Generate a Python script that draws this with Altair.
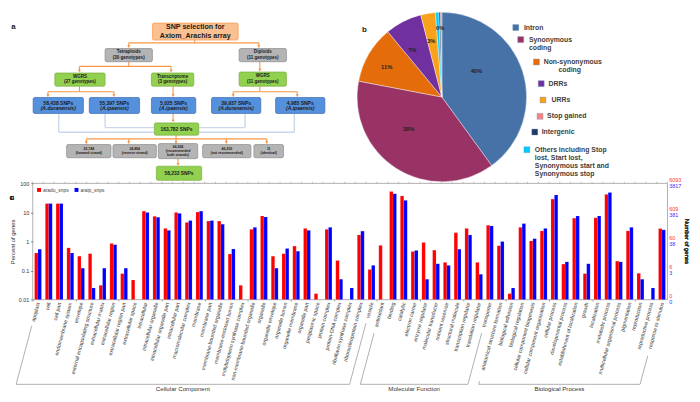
import math
import altair as alt
import pandas as pd

# ------------------------------------------------------------------ panel c data
go_terms = [
    "apoplast", "cell", "cell part", "endomembrane system", "envelope",
    "external encapsulating structure", "extracellular matrix", "extracellular region",
    "extracellular region part", "extracellular space", "intracellular", "intracellular organelle",
    "intracellular organelle part", "intracellular part", "macromolecular complex", "membrane",
    "membrane part", "membrane-bounded organelle", "membrane-enclosed lumen",
    "molybdopterin synthase complex", "non-membrane-bounded organelle", "organelle",
    "organelle envelope", "organelle lumen", "organelle membrane", "organelle part",
    "periplasmic space", "protein complex", "protein-DNA complex", "riboflavin synthase complex",
    "ribonucleoprotein complex", "vesicle",
    "antioxidant", "binding", "catalytic", "electron carrier", "enzyme regulator",
    "molecular transducer", "nutrient reservoir", "structural molecule",
    "transcription regulator", "translation regulator", "transporter",
    "anatomical structure formation", "biological adhesion", "biological regulation",
    "cellular component biogenesis", "cellular component organization", "cellular process",
    "developmental process", "establishment of localization", "growth", "localization",
    "metabolic process", "multicellular organismal process", "pigmentation", "reproduction",
    "reproductive process", "response to stimulus",
]
go_groups = ["Cellular Component", "Molecular Function", "Biological Process"]
go_group_sizes = [32, 11, 16]

aradu_pct = [0.40, 20, 20, 0.60, 0.31, 0.38, 0.031, 0.85, 0.078, 0.047,
             11, 7.3, 2.8, 9.9, 4.5, 10.2, 5.0, 5.0, 0.37, 0.031,
             2.6, 7.5, 0.31, 0.38, 0.69, 2.8, 0.016, 2.6, 0.22, None,
             1.67, 0.108,
             0.73, 52, 36.6, 0.45, 0.92, 0.50, 0.19, 2.0, 2.8, 0.19, 3.6,
             0.71, 0.016, 3.05, 1.04, 2.3, 28.5, 0.166, 6.3, 0.078, 6.5,
             41.5, 0.21, 2.3, 0.08, None, 2.76]
araip_pct = [0.54, 20, 20, 0.40, 0.12, 0.025, 0.12, 0.77, 0.12, None,
             9.9, 6.8, 2.4, 9.2, 5.2, 11, 5.2, 3.9, 0.55, None,
             3.05, 6.9, 0.12, 0.57, 0.46, 2.4, None, 3.05, 0.05, 0.025,
             2.26, 0.15,
             None, 43.6, 25.8, 0.49, 0.05, 0.17, 0.15, 0.54, 1.67, 0.074, 3.4,
             0.99, 0.025, 4.1, 1.24, 2.8, 39.5, 0.198, 7.5, 0.17, 7.5,
             48, 0.198, 3.05, 0.05, 0.025, 2.5]
series_names = ["aradu_snps", "araip_snps"]
pct_ticks = [100, 10, 1, 0.1, 0.01]
aradu_counts = ["6093", "609", "60", "6", "0"]
araip_counts = ["3817", "381", "38", "3", "0"]

# ------------------------------------------------------------------ panel b data
pie_cats = ["Intron", "Synonymous coding", "Non-synonymous coding", "DRRs", "URRs",
            "Stop gained", "Intergenic",
            "Others including Stop lost, Start lost, Synonymous start and Synonymous stop"]
pie_vals = [40, 38, 11, 7, 2.8, 0.3, 0.3, 0.6]
pie_stack_order = [0, 1, 2, 3, 4, 7, 6, 5]
pie_colors = ["#4672A8", "#993366", "#E46C0A", "#7030A0", "#F9A11B",
              "#FF8080", "#1F3864", "#00CCFF"]
pie_legend_lines = [["Intron"], ["Synonymous", "coding"], ["Non-synonymous", "coding"],
                    ["DRRs"], ["URRs"], ["Stop gained"], ["Intergenic"],
                    ["Others including Stop", "lost, Start lost,", "Synonymous start and",
                     "Synonymous stop"]]
pie_labelled = ["Intron", "Synonymous coding", "Non-synonymous coding", "DRRs", "URRs", "Intergenic"]

# ------------------------------------------------------------------ panel a data
flow_texts = [
    ["SNP selection for", "Axiom_Arachis array"],
    ["Tetraploids", "(30 genotypes)"],
    ["Diploids", "(11 genotypes)"],
    ["WGRS", "(27 genotypes)"],
    ["Transcriptome", "(3 genotypes)"],
    ["WGRS", "(11 genotypes)"],
    ["58,438 SNPs", "(A.duranensis)"],
    ["55,397 SNPs", "(A.ipaensis)"],
    ["5,025 SNPs", "(A.ipaensis)"],
    ["39,937 SNPs", "(A.duranensis)"],
    ["4,985 SNPs", "(A.ipaensis)"],
    ["163,782 SNPs"],
    ["25,748", "(forward strand)"],
    ["24,894", "(reverse strand)"],
    ["66,924", "(recommended", "both strands)"],
    ["46,205", "(not recommended)"],
    ["11", "(identical)"],
    ["58,233 SNPs"],
]

# ------------------------------------------------------------------ layout (reference pixel frame)
flow_layout = [  # x0, x1, y0, y1, kind, font size
    (153, 240, 11, 29, "peach", 7.2),
    (105, 153, 38, 52, "gray", 4.6), (241, 289, 38, 52, "gray", 4.6),
    (54, 105, 64, 78, "green", 4.6), (152, 195, 64, 78, "green", 4.6), (241, 289, 63, 78, "green", 4.6),
    (32, 83, 90, 107, "blue", 5.1), (89, 140, 90, 107, "blue", 5.1), (152, 197, 90, 107, "blue", 5.1),
    (213, 263, 90, 107, "blue", 5.1), (278, 328, 90, 107, "blue", 5.1),
    (155, 200, 117, 130, "green", 5.0),
    (66, 111, 140, 154, "gray", 3.5), (113, 157, 140, 154, "gray", 3.5), (159, 199, 139, 155, "gray", 3.5),
    (204, 253, 140, 154, "gray", 3.5), (256, 286, 140, 154, "gray", 3.5),
    (157, 203, 163, 178, "green", 5.0),
]
box_fill = {"peach": "#FAC090", "gray": "#B4B4B4", "green": "#92D050", "blue": "#5590DC"}
box_edge = {"peach": "#F79646", "gray": "#8A8A8A", "green": "#76AE3E", "blue": "#3C6CB4"}
orange_segs = [
    (196, 29, 196, 32), (129, 32, 261, 32), (129, 32, 129, 36), (261, 32, 261, 36),
    (129, 52, 129, 57), (79, 57, 172, 57), (79, 57, 79, 62), (172, 57, 172, 62),
    (262, 52, 262, 61),
    (79, 78, 79, 84), (47, 84, 114, 84), (47, 84, 47, 88), (114, 84, 114, 88),
    (174, 78, 174, 88),
    (262, 78, 262, 84), (235, 84, 300, 84), (235, 84, 235, 88), (300, 84, 300, 88),
    (174, 107, 174, 115),
    (177, 130, 177, 134), (86, 134, 269, 134), (86, 134, 86, 138), (129, 134, 129, 138),
    (177, 134, 177, 138), (228, 134, 228, 138), (269, 134, 269, 138),
    (179, 155, 179, 161),
]
arrow_tips = [(129, 36), (261, 36), (79, 62), (172, 62), (262, 61), (47, 88), (114, 88),
              (174, 88), (235, 88), (300, 88), (174, 115), (86, 138), (129, 138), (177, 138),
              (228, 138), (269, 138), (179, 161)]
light_segs = [(58, 107, 58, 127), (58, 127, 155, 127), (105, 107, 105, 122), (105, 122, 155, 122),
              (247, 107, 247, 122), (247, 122, 200, 122), (297, 107, 297, 127), (297, 127, 200, 127)]
pie_center = (446.7, 89.5)
pie_radius = 86
pie_label_pos = [(481.7, 62), (413, 124), (390.7, 57.7), (416.7, 40), (436, 30), (445, 16)]
legend_marks = [(521.7, 15.7), (526.7, 28.5), (542.7, 52.3), (547.5, 75.3), (549.3, 92.7),
                (546.3, 110), (541, 126.7), (533, 145.5)]
legend_text_pos = [[(530, 15.7)], [(535, 28.5), (535, 37.7)], [(550, 52.3), (565, 61)],
                   [(555, 75.3)], [(558, 92.7)], [(553.5, 110)], [(548, 126.7)],
                   [(541, 145.5), (541, 154.3), (541, 163.3), (541, 171.7)]]
panel_letters = [("a", 12, 15), ("b", 368, 18)]

FONT = "Liberation Sans"
LEFT = 23.5                    # left extent of panel c's axis column
TW, TH = 692 - LEFT, 170
XD0, YD0 = 8 + LEFT, 0
xs = alt.Scale(domain=[XD0, 700], range=[0, TW])
ys = alt.Scale(domain=[YD0, 178], range=[0, TH])
XK = TW / (700 - XD0)
YK = TH / (178 - YD0)


def X(f):
    return alt.X(f, type="quantitative", scale=xs, axis=None)


def Y(f):
    return alt.Y(f, type="quantitative", scale=ys, axis=None)


# ---- flowchart tables
boxes_df = pd.DataFrame([
    {"x0": l[0], "x1": l[1], "y0": l[2], "y1": l[3],
     "fill": box_fill[l[4]], "edge": box_edge[l[4]]} for l in flow_layout])
txt_rows = []
for lines, l in zip(flow_texts, flow_layout):
    x0, x1, y0, y1, kind, fs = l
    n = len(lines)
    lh = fs * 1.15 / YK
    for k, t in enumerate(lines):
        txt_rows.append({"x": (x0 + x1) / 2, "y": (y0 + y1) / 2 + (k - (n - 1) / 2) * lh,
                         "t": t, "fs": fs, "it": kind == "blue" and k == 1})
txt_df = pd.DataFrame(txt_rows)
seg_df = pd.DataFrame(orange_segs, columns=["xa", "ya", "xb", "yb"])
lseg_df = pd.DataFrame(light_segs, columns=["xa", "ya", "xb", "yb"])
tip_df = pd.DataFrame(arrow_tips, columns=["x", "y"])

boxes = alt.Chart(boxes_df).mark_rect(strokeWidth=0.7, cornerRadius=1.5).encode(
    x=X("x0"), x2="x1", y=Y("y0"), y2="y1",
    fill=alt.Fill("fill:N", scale=None), stroke=alt.Stroke("edge:N", scale=None))
light = alt.Chart(lseg_df).mark_rule(color="#C9D8EC", strokeWidth=1.4).encode(
    x=X("xa"), x2="xb", y=Y("ya"), y2="yb")
orange = alt.Chart(seg_df).mark_rule(color="#F79646", strokeWidth=1.1).encode(
    x=X("xa"), x2="xb", y=Y("ya"), y2="yb")
tips = alt.Chart(tip_df).mark_point(shape="triangle-down", filled=True, size=10,
                                     color="#F79646", opacity=1).encode(x=X("x"), y=Y("y"))
txt_plain = alt.Chart(txt_df[~txt_df["it"]]).mark_text(
    fontWeight="bold", color="#1A1A1A", font=FONT, baseline="middle").encode(
    x=X("x"), y=Y("y"), text="t:N", size=alt.Size("fs:Q", scale=None))
txt_ital = alt.Chart(txt_df[txt_df["it"]]).mark_text(
    fontWeight="bold", fontStyle="italic", color="#1A1A1A", font=FONT, baseline="middle").encode(
    x=X("x"), y=Y("y"), text="t:N", size=alt.Size("fs:Q", scale=None))

# ---- pie
pie_df = pd.DataFrame({"cat": pie_cats, "v": pie_vals, "ord": pie_stack_order})
cscale = alt.Scale(domain=pie_cats, range=pie_colors)
pcx = (pie_center[0] - XD0) * XK
pcy = (pie_center[1] - YD0) * YK
pie = alt.Chart(pie_df).mark_arc(outerRadius=pie_radius, stroke="white", strokeWidth=0.4).encode(
    theta=alt.Theta("v:Q", stack=True), order=alt.Order("ord:Q"),
    color=alt.Color("cat:N", scale=cscale, legend=None),
    x=alt.value(pcx), y=alt.value(pcy))

lab_rows = []
for c, (px, py) in zip(pie_labelled, pie_label_pos):
    v = pie_vals[pie_cats.index(c)]
    lab_rows.append({"t": f"{round(v)}%", "x": px, "y": py})
pie_lbl = alt.Chart(pd.DataFrame(lab_rows)).mark_text(
    fontWeight="bold", fontSize=5.8, color="#222222", font=FONT).encode(
    x=X("x"), y=Y("y"), text="t:N")

leg_sq_df = pd.DataFrame({"cat": pie_cats, "x": [p[0] for p in legend_marks],
                          "y": [p[1] for p in legend_marks]})
leg_sq = alt.Chart(leg_sq_df).mark_square(size=36, opacity=1, stroke="#6E8FB8",
                                          strokeWidth=0.4).encode(
    x=X("x"), y=Y("y"), color=alt.Color("cat:N", scale=cscale, legend=None))
leg_rows = []
for lines, poss in zip(pie_legend_lines, legend_text_pos):
    for t, (px, py) in zip(lines, poss):
        leg_rows.append({"t": t, "x": px, "y": py})
leg_txt = alt.Chart(pd.DataFrame(leg_rows)).mark_text(
    align="left", baseline="middle", fontWeight="bold", fontSize=7,
    color="#404040", font=FONT).encode(x=X("x"), y=Y("y"), text="t:N")
letters = alt.Chart(pd.DataFrame(panel_letters, columns=["t", "x", "y"])).mark_text(
    fontWeight="bold", fontSize=8, color="#222222", font=FONT).encode(
    x=X("x"), y=Y("y"), text="t:N")

top = alt.layer(light, orange, tips, boxes, txt_plain, txt_ital, pie, pie_lbl,
                leg_sq, leg_txt, letters).properties(
    width=TW, height=TH, view=alt.ViewBackground(stroke=None))

# ------------------------------------------------------------------ panel c chart
W, H = 644, 118
N = len(go_terms)
bar_rows = []
for i, (t, a, b) in enumerate(zip(go_terms, aradu_pct, araip_pct)):
    if a is not None:
        bar_rows.append({"idx": i, "series": series_names[0], "pct": a})
    if b is not None:
        bar_rows.append({"idx": i, "series": series_names[1], "pct": b})
bars_df = pd.DataFrame(bar_rows)
logscale = alt.Scale(type="log", domain=[0.01, 100], nice=False)
xscale = alt.Scale(domain=[-0.5, N - 0.5], nice=False, zero=False)
bounds_ticks = [i + 0.5 for i in range(-1, N)]

bars = alt.Chart(bars_df).transform_calculate(
    xa=f"datum.idx + (datum.series == '{series_names[0]}' ? -0.32 : 0)",
    xb=f"datum.idx + (datum.series == '{series_names[0]}' ? 0 : 0.32)",
    base="0.01").mark_rect(stroke="#FFFFFF", strokeOpacity=0.35, strokeWidth=0.3).encode(
    x=alt.X("xa:Q", scale=xscale,
            axis=alt.Axis(title=None, values=bounds_ticks, labels=False, tickSize=1.5,
                          tickColor="#9A9A9A", domain=False, grid=False)),
    x2="xb:Q",
    y=alt.Y("pct:Q", scale=logscale,
            axis=alt.Axis(values=pct_ticks, labelExpr="format(datum.value, '~g')",
                          title="Percent of genes", titleFontSize=6, titleFontWeight="normal",
                          titleColor="#333333", titlePadding=3, labelFontSize=5.5,
                          labelColor="#333333", tickSize=2, tickColor="#777777",
                          domain=False, grid=False, labelFont=FONT, titleFont=FONT)),
    y2="base:Q",
    color=alt.Color("series:N", scale=alt.Scale(domain=series_names, range=["#FF0000", "#0000FF"]),
                    legend=alt.Legend(orient="top-left", direction="horizontal", title=None,
                                      symbolType="square", symbolSize=16, labelFontSize=5,
                                      labelColor="#444444", padding=1, offset=3,
                                      columnPadding=5, labelOffset=1.5, symbolStrokeWidth=0,
                                      labelFont=FONT)),
)
term_df = pd.DataFrame({"idx": list(range(N)), "term": go_terms})
term_lbl = alt.Chart(term_df).mark_text(angle=285, align="right", baseline="middle",
                                        fontSize=5.3, color="#333333", font=FONT).encode(
    x=alt.X("idx:Q", scale=xscale), y=alt.value(H + 3), text="term:N")
top_ticks = alt.Chart(pd.DataFrame({"b": bounds_ticks})).mark_rule(
    color="#9A9A9A", strokeWidth=0.6).encode(
    x=alt.X("b:Q", scale=xscale), y=alt.value(-1.5), y2=alt.value(0))

cnt_df = pd.DataFrame({"t": pct_ticks, "r": aradu_counts, "b": araip_counts})
red_lbl = alt.Chart(cnt_df).mark_text(align="left", baseline="bottom", dx=2, dy=-0.3,
                                      fontSize=5.5, color="#FF3030", font=FONT).encode(
    x=alt.value(W), y=alt.Y("t:Q", scale=logscale), text="r:N")
blue_lbl = alt.Chart(cnt_df).mark_text(align="left", baseline="top", dx=2, dy=0.3,
                                       fontSize=5.5, color="#3030FF", font=FONT).encode(
    x=alt.value(W), y=alt.Y("t:Q", scale=logscale), text="b:N")
right_title = alt.Chart(cnt_df).mark_text(text="Number of genes", angle=90, fontSize=6,
                                          color="#333333", font=FONT).encode(
    x=alt.value(W + 20), y=alt.value(H / 2))
c_letter = alt.Chart(cnt_df).mark_text(text="c", fontWeight="bold", fontSize=8,
                                       color="#222222", font=FONT).encode(
    x=alt.value(-21), y=alt.value(15))

# group brackets following the label direction (index units across, log units down)
step = W / N
ang = math.radians(75)
cot, sn = 1 / math.tan(ang), math.sin(ang)
y0 = H + 3
ybot = H + 86


def ylog(pix):
    # pixel offset from plot top -> value on the log axis (extrapolated below 0.01)
    return 10 ** (2 - 4 * pix / H)


br_rows, gt_rows = [], []
start = 0
for g, n in zip(go_groups, go_group_sizes):
    ends = []
    for i in (start, start + n - 1):
        c = (i + 0.5) * step
        ty = y0 + sn * (2.65 * len(go_terms[i]) + 1) + 2
        ends.append(((c - (ty - y0) * cot, ty), (c - (ybot - y0) * cot, ybot)))
    for k, (px, py) in enumerate([ends[0][0], ends[0][1], ends[1][1], ends[1][0]]):
        br_rows.append({"g": g, "k": k, "bx": px / step - 0.5, "by": ylog(py)})
    gt_rows.append({"g": g, "bx": ((ends[0][1][0] + ends[1][1][0]) / 2) / step - 0.5})
    start += n
brackets = alt.Chart(pd.DataFrame(br_rows)).mark_line(color="#8C8C8C", strokeWidth=0.7).encode(
    x=alt.X("bx:Q", scale=xscale), y=alt.Y("by:Q", scale=logscale),
    detail="g:N", order="k:Q")
gtitles = alt.Chart(pd.DataFrame(gt_rows)).mark_text(fontSize=6.2, color="#333333",
                                                     baseline="middle", font=FONT).encode(
    x=alt.X("bx:Q", scale=xscale), y=alt.value(ybot + 4.5), text="g:N")

bottom = alt.layer(bars, term_lbl, top_ticks, red_lbl, blue_lbl, right_title, c_letter,
                   brackets, gtitles).properties(width=W, height=H)

chart = alt.vconcat(top, bottom, spacing=-6).resolve_scale(color="independent").properties(
    padding=0).configure(font=FONT).configure_view(stroke="#7A7A7A", strokeWidth=0.6)

chart.save("out.html", embed_options={"renderer": "svg", "actions": False})
